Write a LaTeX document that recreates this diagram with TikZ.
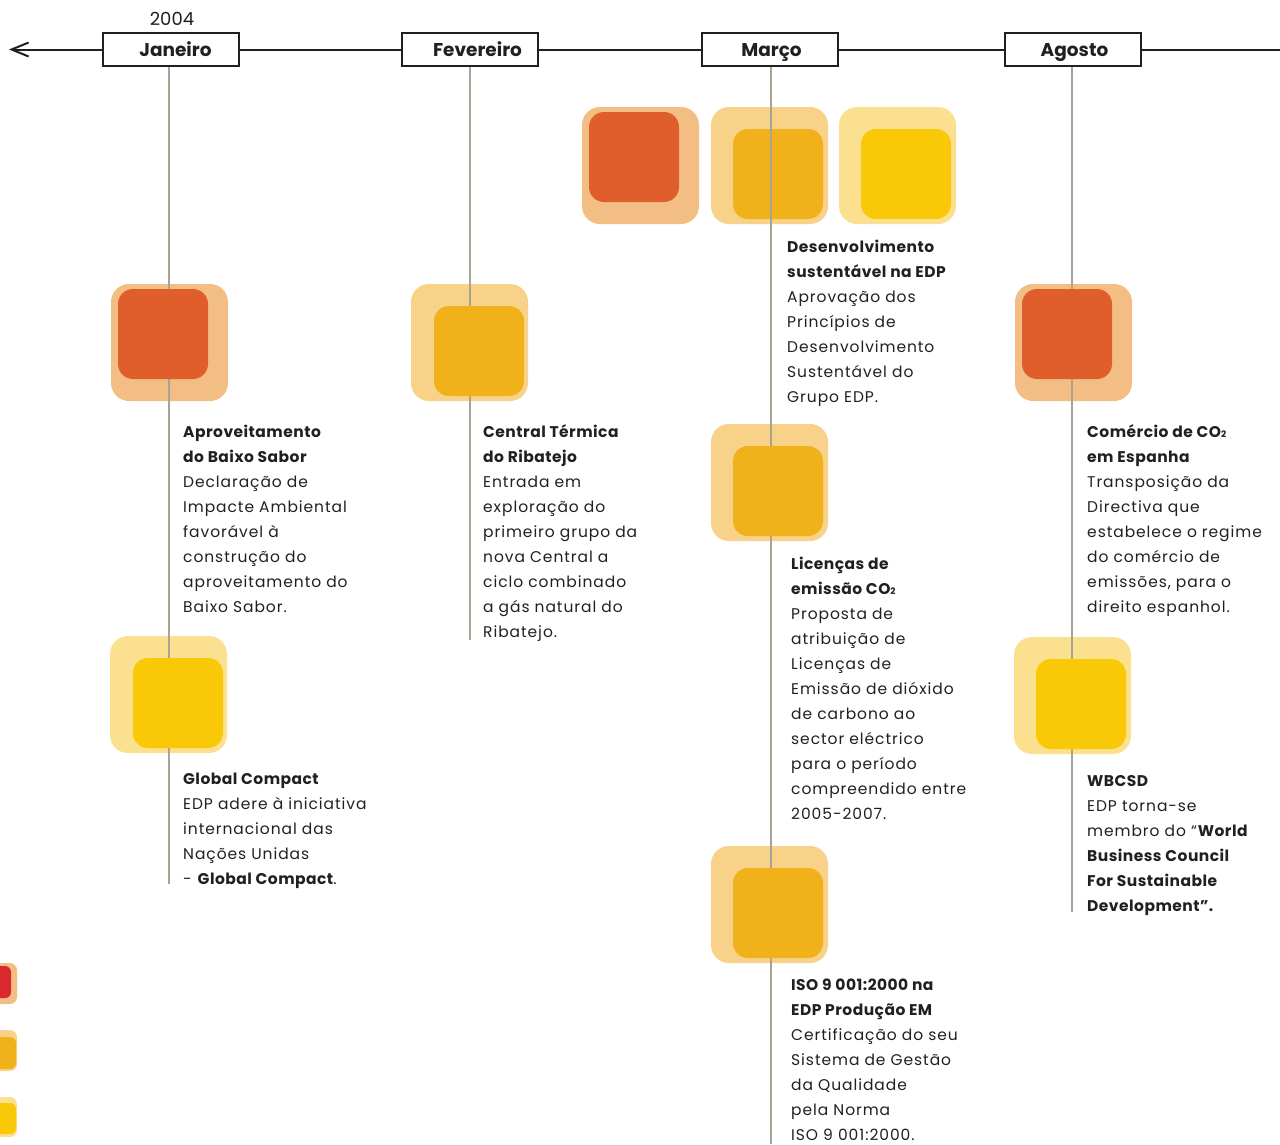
\documentclass[tikz,border=0pt]{standalone}
\usepackage{fontspec}
\usetikzlibrary{arrows.meta}
\newfontfamily\bodyfont{Poppins}[LetterSpace=6,BoldFeatures={LetterSpace=3}]
\newfontfamily\monthfont{Poppins}
\definecolor{ink}{HTML}{231F20}
\definecolor{vgray}{HTML}{A8A393}
\definecolor{redin}{HTML}{DF5E2B}
\definecolor{redout}{HTML}{F3BE84}
\definecolor{orin}{HTML}{F0B11B}
\definecolor{orout}{HTML}{F8D289}
\definecolor{yein}{HTML}{F9C806}
\definecolor{yeout}{HTML}{FBE08F}
\definecolor{legred}{HTML}{D9282E}
\newcommand\outsq[3]{\fill[#3,rounded corners=18pt] (#1,#2) rectangle ++(117,117);}
\newcommand\insq[3]{\fill[#3,rounded corners=15pt] (#1,#2) rectangle ++(90,90);}
\newcommand\subtwo{{\fontsize{9}{9}\selectfont 2}}
\tikzset{
  month/.style={draw=ink, line width=2pt, fill=white, minimum width=136pt,
    minimum height=33pt, inner sep=0pt, text=ink, text height=18pt, text depth=4pt,
    font=\monthfont\bfseries\fontsize{18.5}{18.5}\selectfont},
  vline/.style={draw=vgray, line width=1.3pt},
  axis/.style={draw=ink, line width=2pt},
  txt/.style={inner sep=0pt, anchor=base west, align=left, text=ink,
    font=\bodyfont\fontsize{15.5}{25}\selectfont},
}
\begin{document}
\begin{tikzpicture}[x=1pt,y=-1pt]
\useasboundingbox (0,0) rectangle (1280,1144);
% outer squares
\outsq{582}{107}{redout}
\outsq{711}{107}{orout}
\outsq{839}{107}{yeout}
\outsq{111}{284}{redout}
\outsq{110}{636}{yeout}
\outsq{411}{284}{orout}
\outsq{711}{424}{orout}
\outsq{711}{846}{orout}
\outsq{1015}{284}{redout}
\outsq{1014}{637}{yeout}
% legend squares
\fill[redout,rounded corners=7pt] (-24,963) rectangle (17,1004);
\fill[orout,rounded corners=7pt] (-24,1030) rectangle (17,1071);
\fill[yeout,rounded corners=7pt] (-24,1097) rectangle (17,1137);
% axis
\coordinate (axisend) at (1280,49.5);
\coordinate (axistip) at (9,49.5);
\draw[axis,-{Straight Barb[length=17pt,width=14pt,line width=2pt]}] (axisend) -- (axistip);
% months
\node[month] (jan) at (171,49.5) {\hspace*{9pt}Janeiro};
\node[month] (fev) at (470,49.5) {\hspace*{15pt}Fevereiro};
\node[month] (mar) at (770,49.5) {\hspace*{3pt}Março};
\node[month] (ago) at (1073,49.5) {\hspace*{3pt}Agosto};
\node[font=\monthfont\fontsize{18}{18}\selectfont, text=ink, anchor=base, inner sep=0pt] (year) at (172,25) {2004};
% vertical lines
\coordinate (janend) at (169,884);
\coordinate (fevend) at (470,640);
\coordinate (marend) at (771,1144);
\coordinate (agoend) at (1072,912);
\draw[vline] (jan.south -| janend) -- (janend);
\draw[vline] (fev.south -| fevend) -- (fevend);
\draw[vline] (mar.south -| marend) -- (marend);
\draw[vline] (ago.south -| agoend) -- (agoend);
% inner squares
\insq{589}{112}{redin}
\insq{733}{129}{orin}
\insq{861}{129}{yein}
\insq{118}{289}{redin}
\insq{133}{658}{yein}
\insq{434}{306}{orin}
\insq{733}{446}{orin}
\insq{733}{868}{orin}
\insq{1022}{289}{redin}
\insq{1036}{659}{yein}
\fill[legred,rounded corners=6pt] (-22,966) rectangle (11,998);
\fill[orin,rounded corners=6pt] (-18,1037) rectangle (16,1069);
\fill[yein,rounded corners=6pt] (-18,1103) rectangle (16,1134);
% line over top Março square
\coordinate (martop) at (771,223);
\draw[vline] (mar.south -| martop) -- (martop);
% texts (anchored at the baseline of the last line)
\node[txt] (t1) at (183,612) {\textbf{Aproveitamento}\\\textbf{do Baixo Sabor}\\Declaração de\\Impacte Ambiental\\favorável à\\construção do\\aproveitamento do\\Baixo Sabor.};
\node[txt] (t2) at (183,884) {\textbf{Global Compact}\\EDP adere à iniciativa\\internacional das\\Nações Unidas\\- \textbf{Global Compact}.};
\node[txt] (t3) at (483,637) {\textbf{Central Térmica}\\\textbf{do Ribatejo}\\Entrada em\\exploração do\\primeiro grupo da\\nova Central a\\ciclo combinado\\a gás natural do\\Ribatejo.};
\node[txt] (t4) at (787,402) {\textbf{Desenvolvimento}\\\textbf{sustentável na EDP}\\Aprovação dos\\Princípios de\\Desenvolvimento\\Sustentável do\\Grupo EDP.};
\node[txt] (t5) at (791,819) {\textbf{Licenças de}\\\textbf{emissão CO\subtwo}\\Proposta de\\atribuição de\\Licenças de\\Emissão de dióxido\\de carbono ao\\sector eléctrico\\para o período\\compreendido entre\\2005-2007.};
\node[txt] (t6) at (791,1140) {\textbf{ISO 9 001:2000 na}\\\textbf{EDP Produção EM}\\Certificação do seu\\Sistema de Gestão\\da Qualidade\\pela Norma\\ISO 9 001:2000.};
\node[txt] (t7) at (1087,612) {\textbf{Comércio de CO\subtwo}\\\textbf{em Espanha}\\Transposição da\\Directiva que\\estabelece o regime\\do comércio de\\emissões, para o\\direito espanhol.};
\node[txt] (t8) at (1087,911) {\textbf{WBCSD}\\EDP torna-se\\membro do “\textbf{World}\\\textbf{Business Council}\\\textbf{For Sustainable}\\\textbf{Development”.}};
\end{tikzpicture}
\end{document}
